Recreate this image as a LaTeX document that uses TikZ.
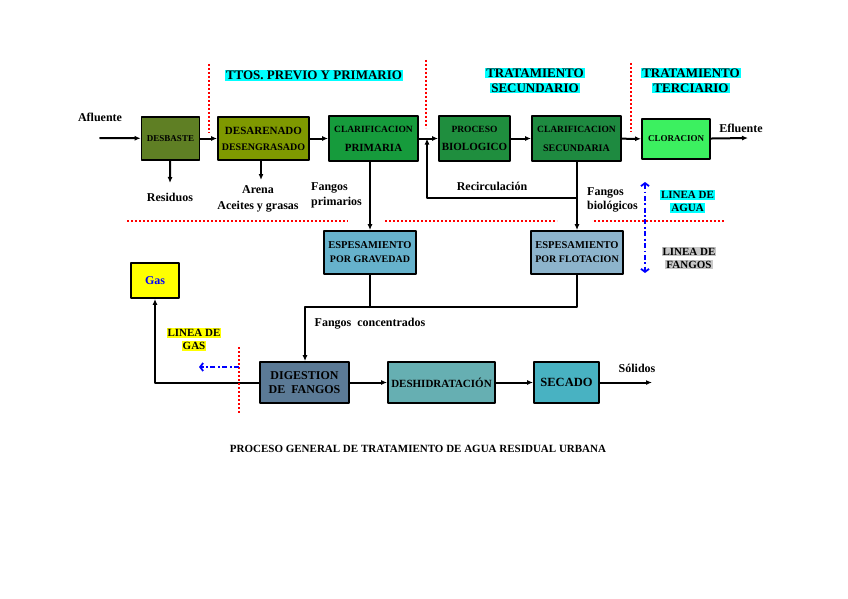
\documentclass[tikz,border=0pt]{standalone}
\usepackage{fontspec}
\setmainfont{Liberation Serif}
\usetikzlibrary{arrows.meta}
\definecolor{cdesb}{HTML}{5F7F24}
\definecolor{cdesa}{HTML}{7F9900}
\definecolor{cclap}{HTML}{169B3C}
\definecolor{cbio}{HTML}{1F8E3E}
\definecolor{cclas}{HTML}{1E8A40}
\definecolor{cclor}{HTML}{3CF060}
\definecolor{cespg}{HTML}{66B2CC}
\definecolor{cespf}{HTML}{8DB4CC}
\definecolor{cdig}{HTML}{5B7A96}
\definecolor{cdesh}{HTML}{66AFB2}
\definecolor{csec}{HTML}{48B2C2}
\definecolor{hcyan}{RGB}{0,255,255}
\definecolor{hyell}{RGB}{255,255,0}
\definecolor{hgray}{RGB}{200,200,200}
\definecolor{hblue}{RGB}{0,0,255}
\definecolor{hred}{RGB}{255,0,0}
\newcommand\fsz[2]{\fontsize{#1}{#2}\selectfont\bfseries}
\setlength\fboxsep{1pt}
\begin{document}
\begin{tikzpicture}[x=1pt,y=-1pt,line cap=round,line join=round,
  box/.style={draw,line width=1.8pt,inner sep=0pt,align=center},
  arr/.style={line width=2pt,-{Latex[length=6pt,width=5pt]}},
  lin/.style={line width=2pt},
  sep/.style={hred,line width=2pt,line cap=butt,dash pattern=on 2pt off 2pt},
  lim/.style={hblue,line width=1.8pt,line cap=butt,dash pattern=on 5pt off 2.5pt on 1.8pt off 2.5pt},
  lab/.style={align=center,inner sep=0pt,font=\fsz{12}{15}}]
  \useasboundingbox (0,0) rectangle (848,599);
  \node[box,fill=cdesb,minimum width=58pt,minimum height=43pt,font=\fsz{9}{11}] (desb) at (170.5,138.5) {DESBASTE};
  \node[box,fill=cdesa,minimum width=91pt,minimum height=43pt,font=\fsz{11}{16}] (desar) at (263.5,138.5) {DESARENADO\\{\fsz{10}{16}DESENGRASADO}};
  \node[box,fill=cclap,minimum width=89pt,minimum height=45pt,font=\fsz{9.5}{19}] (clarp) at (373.5,138.5) {CLARIFICACION\\{\fsz{11}{19}PRIMARIA}};
  \node[box,fill=cbio,minimum width=71pt,minimum height=45pt,font=\fsz{9.5}{18}] (bio) at (474.5,138.5) {PROCESO\\{\fsz{11}{18}BIOLOGICO}};
  \node[box,fill=cclas,minimum width=89pt,minimum height=45pt,font=\fsz{9.5}{19}] (clars) at (576.5,138.5) {CLARIFICACION\\{\fsz{10}{19}SECUNDARIA}};
  \node[box,fill=cclor,minimum width=68pt,minimum height=40pt,font=\fsz{9}{11}] (clor) at (676,139) {CLORACION};
  \node[box,fill=cespg,minimum width=92pt,minimum height=43pt,font=\fsz{10.5}{14}] (espg) at (370,252.5) {ESPESAMIENTO\\{\fsz{10}{14}POR GRAVEDAD}};
  \node[box,fill=cespf,minimum width=92pt,minimum height=43pt,font=\fsz{10.5}{14}] (espf) at (577,252.5) {ESPESAMIENTO\\{\fsz{10}{14}POR FLOTACION}};
  \node[box,fill=hyell,minimum width=48pt,minimum height=35pt,font=\fsz{12}{14},text=hblue] (gas) at (155,280.5) {Gas};
  \node[box,fill=cdig,minimum width=89pt,minimum height=41pt,font=\fsz{12}{14}] (dig) at (304.5,382.5) {DIGESTION\\DE~~FANGOS};
  \node[box,fill=cdesh,minimum width=107pt,minimum height=41pt,font=\fsz{11}{14}] (desh) at (441.5,382.5) {DESHIDRATACIÓN};
  \node[box,fill=csec,minimum width=65pt,minimum height=41pt,font=\fsz{12.5}{14}] (sec) at (566.5,382.5) {SECADO};

  \node[lab,font=\fsz{13}{15}] (hpre) at (314,75.5) {\colorbox{hcyan}{TTOS. PREVIO Y PRIMARIO}};
  \node[lab,font=\fsz{13}{15}] (hsec) at (535,80.5) {\colorbox{hcyan}{TRATAMIENTO}\\\colorbox{hcyan}{SECUNDARIO}};
  \node[lab,font=\fsz{13}{15}] (hter) at (691,80.5) {\colorbox{hcyan}{TRATAMIENTO}\\\colorbox{hcyan}{TERCIARIO}};
  \node[lab,font=\fsz{11}{13}] (lagua) at (687.5,201.5) {\colorbox{hcyan}{LINEA DE}\\\colorbox{hcyan}{AGUA}};
  \node[lab,font=\fsz{11}{13}] (lfang) at (689,258) {\colorbox{hgray}{LINEA DE}\\\colorbox{hgray}{FANGOS}};
  \node[lab,font=\fsz{11}{13}] (lgas) at (194,339.5) {\colorbox{hyell}{LINEA DE}\\\colorbox{hyell}{GAS}};

  \node[lab] (afl) at (100,117) {Afluente};
  \node[lab] (efl) at (741,128) {Efluente};
  \node[lab] (res) at (170,197) {Residuos};
  \node[lab,font=\fsz{12}{16}] (acei) at (258,199) {Arena\\Aceites y grasas};
  \node[lab,anchor=west,align=left] (fprim) at (311,195) {Fangos\\primarios};
  \node[lab] (recl) at (492,186) {Recirculación};
  \node[lab,anchor=west,align=left,font=\fsz{12}{14}] (fbio) at (587,200) {Fangos\\biológicos};
  \node[lab] (fconc) at (370,324) {Fangos~ concentrados};
  \node[lab] (solid) at (637,368) {Sólidos};
  \node[lab,font=\fsz{11}{13}] (title) at (418,449) {PROCESO GENERAL DE TRATAMIENTO DE AGUA RESIDUAL URBANA};

  \coordinate (ain) at (100,138); \coordinate (aout) at (748,138);
  \coordinate (resd) at (170,183); \coordinate (are) at (261,180);
  \coordinate (rec) at (427,198); \coordinate (fc) at (305,307);
  \coordinate (sol) at (652,382.5);

  \draw[arr] (ain) -- (desb); \draw[arr] (desb) -- (desar);
  \draw[arr] (desar) -- (clarp); \draw[arr] (clarp) -- (bio);
  \draw[arr] (bio) -- (clars); \draw[arr] (clars) -- (clor);
  \draw[arr] (clor) -- (aout);
  \draw[arr] (desb) -- (resd); \draw[arr] (desar.south -| are) -- (are);
  \draw[arr] (clarp.south -| espg.north) -- (espg.north);
  \draw[arr] (clars.south -| espf.north) -- (espf.north);
  \draw[arr] (clars.south |- rec) -- (rec) -- (clarp.east -| rec);
  \draw[lin] (espg.south) -- (espg.south |- fc);
  \draw[lin] (espf.south) |- (fc);
  \draw[arr] (fc) -- (fc |- dig.north);
  \draw[arr] (dig.west) -| (gas.south);
  \draw[arr] (dig) -- (desh); \draw[arr] (desh) -- (sec); \draw[arr] (sec) -- (sol);

  \draw[sep] (209,64) -- (209,133); \draw[sep] (426,60) -- (426,128); \draw[sep] (631,63) -- (631,132);
  \draw[sep] (127,221) -- (348,221); \draw[sep] (385,221) -- (557,221); \draw[sep] (594,221) -- (725,221);
  \draw[sep] (239,347) -- (239,413);
  \draw[lim,{Straight Barb[length=3pt,width=8pt]}-{Straight Barb[length=3pt,width=8pt]}] (645,182) -- (645,273);
  \draw[lim,-{Straight Barb[length=3pt,width=8pt]}] (239,367) -- (199,367);
\end{tikzpicture}
\end{document}
